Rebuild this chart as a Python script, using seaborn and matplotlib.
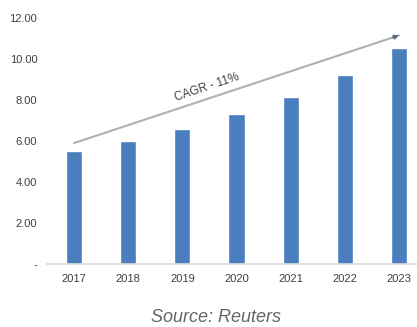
import matplotlib
matplotlib.use("Agg")
import matplotlib.pyplot as plt
import seaborn as sns
import pandas as pd
from matplotlib import font_manager

years = ["2017", "2018", "2019", "2020", "2021", "2022", "2023"]
values = [5.51, 6.00, 6.58, 7.32, 8.15, 9.22, 10.54]
ytick_values = [0, 2, 4, 6, 8, 10, 12]
ytick_labels = ["-", "2.00", "4.00", "6.00", "8.00", "10.00", "12.00"]
cagr_label = "CAGR - 11%"
source_label = "Source: Reuters"

sns.set_theme(style="white")
names = {f.name for f in font_manager.fontManager.ttflist}
narrow = "Liberation Sans Narrow" if "Liberation Sans Narrow" in names else "Liberation Sans"
plt.rcParams["font.family"] = [narrow, "DejaVu Sans"]

df = pd.DataFrame({"year": years, "value": values})

W, H = 417, 327
fig = plt.figure(figsize=(W / 100, H / 100), dpi=100)
fig.patch.set_facecolor("white")
ax = fig.add_axes([47 / W, (H - 264) / H, 379 / W, 246 / H])

sns.barplot(data=df, x="year", y="value", color="#4a7ebf", saturation=1,
            width=0.3, ax=ax)

ax.set_xlim(-0.5, len(years) - 0.5)
ax.set_ylim(0, 12)
ax.set_yticks(ytick_values)
ax.set_yticklabels(ytick_labels)
ax.set_xlabel("")
ax.set_ylabel("")
for s in ["top", "right", "left"]:
    ax.spines[s].set_visible(False)
ax.spines["bottom"].set_color("#d9d9d9")
ax.spines["bottom"].set_linewidth(1.2)
ax.tick_params(axis="both", length=0, labelsize=8, colors="#404040")
ax.tick_params(axis="y", pad=7)
ax.tick_params(axis="x", pad=7)

# CAGR arrow: grey shaft with a small dark head
x0, y0, x1, y1 = 0.0, 5.9, 6.0, 11.15
ax.annotate("", xy=(x1, y1), xytext=(x0, y0),
            arrowprops=dict(arrowstyle="-", color="#b0b0b0", lw=1.5,
                            shrinkA=0, shrinkB=0),
            annotation_clip=False)
ax.annotate("", xy=(x1, y1), xytext=(x1 - 0.12, y1 - 0.12 * (y1 - y0) / (x1 - x0)),
            arrowprops=dict(arrowstyle="-|>", color="#5b6b82", lw=1.0,
                            mutation_scale=7, shrinkA=0, shrinkB=0),
            annotation_clip=False)
ax.text(2.45, 8.6, cagr_label, rotation=18.6, ha="center", va="center",
        fontsize=8.5, color="#404040")

fig.text(216 / W, 1 - 317 / H, source_label, ha="center", va="center",
         fontsize=13, color="#666666", style="italic",
         family=["Liberation Sans", "DejaVu Sans"])

fig.savefig("out.png", dpi=100, facecolor="white")
